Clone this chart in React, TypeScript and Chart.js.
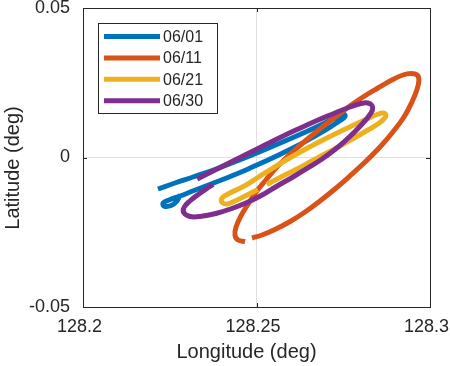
import React, { useEffect, useRef } from 'react';
import { Chart, registerables } from 'chart.js';

Chart.register(...registerables);

const seriesLabels = ['06/01', '06/11', '06/21', '06/30'];
const seriesColors = ['#0072BD', '#D95319', '#EDB120', '#7E2F8E'];

const xTickValues = [128.2, 128.25, 128.3];
const xTickLabels = ['128.2', '128.25', '128.3'];
const yTickValues = [-0.05, 0, 0.05];
const yTickLabels = ['-0.05', '0', '0.05'];

const xTitle = 'Longitude (deg)';
const yTitle = 'Latitude (deg)';

const lon0601 = [128.2216, 128.2265, 128.2317, 128.2372, 128.2429, 128.2487, 128.2545, 128.2602, 128.2654, 128.27, 128.2735, 128.2752, 128.2755, 128.2741, 128.2712, 128.2671, 128.2625, 128.2576, 128.2524, 128.2473, 128.2421, 128.2369, 128.232, 128.228, 128.2248, 128.2231, 128.2233, 128.2254, 128.2271, 128.228];
const lat0601 = [-0.01054, -0.00853, -0.00652, -0.00435, -0.00184, 0.00084, 0.00368, 0.00652, 0.0092, 0.01171, 0.01371, 0.01455, 0.01371, 0.01237, 0.0102, 0.00736, 0.00435, 0.00151, -0.00134, -0.00401, -0.00652, -0.00886, -0.01104, -0.01288, -0.01421, -0.01522, -0.01622, -0.01605, -0.01455, -0.01237];

const lon0611 = [128.2487, 128.2516, 128.2553, 128.2597, 128.264, 128.2683, 128.2726, 128.2769, 128.2813, 128.2856, 128.2893, 128.2925, 128.2948, 128.2963, 128.2968, 128.2963, 128.2945, 128.2922, 128.289, 128.285, 128.2807, 128.2769, 128.2735, 128.2697, 128.2654, 128.262, 128.2588, 128.2556, 128.2527, 128.2499, 128.2476, 128.2455, 128.2441, 128.2438, 128.2447, 128.2467];
const lat0611 = [-0.02692, -0.02592, -0.02408, -0.0214, -0.01823, -0.01455, -0.01054, -0.00619, -0.00151, 0.00351, 0.00853, 0.01355, 0.01856, 0.02291, 0.02592, 0.02759, 0.02809, 0.02759, 0.02592, 0.02324, 0.02023, 0.01722, 0.01421, 0.01087, 0.00686, 0.00351, 0.00017, -0.00351, -0.00753, -0.01154, -0.01555, -0.01957, -0.02324, -0.02592, -0.02759, -0.02809];

const lon0621 = [128.2504, 128.247, 128.2438, 128.2415, 128.2401, 128.2401, 128.2418, 128.2441, 128.247, 128.2504, 128.2545, 128.2588, 128.2634, 128.2683, 128.2735, 128.2784, 128.2821, 128.2847, 128.2865, 128.2873, 128.2867, 128.285, 128.2821, 128.2784, 128.2741, 128.2697, 128.2654, 128.2611, 128.2568, 128.253];
const lat0621 = [-0.0107, -0.01271, -0.01455, -0.01555, -0.01505, -0.01355, -0.01221, -0.01087, -0.0092, -0.00669, -0.00368, -0.00067, 0.00234, 0.00535, 0.00836, 0.01104, 0.01304, 0.01438, 0.01488, 0.01421, 0.01288, 0.0112, 0.0092, 0.00669, 0.00385, 0.00117, -0.00151, -0.00418, -0.00669, -0.00903];

const lon0630 = [128.2329, 128.2372, 128.2418, 128.2467, 128.2516, 128.2568, 128.262, 128.2671, 128.2723, 128.2769, 128.2801, 128.2821, 128.2833, 128.2834, 128.2824, 128.2807, 128.2784, 128.2758, 128.2726, 128.2689, 128.2648, 128.2605, 128.2562, 128.2519, 128.2476, 128.2429, 128.2383, 128.2337, 128.2308, 128.2291, 128.2291, 128.2308, 128.2334, 128.2357, 128.2375];
const lat0630 = [-0.00719, -0.00468, -0.00201, 0.00084, 0.00368, 0.00669, 0.00953, 0.01221, 0.01472, 0.01689, 0.01806, 0.01823, 0.01739, 0.01589, 0.01388, 0.01154, 0.0087, 0.00585, 0.00268, -0.0005, -0.00351, -0.00652, -0.00936, -0.01237, -0.01488, -0.01706, -0.01873, -0.01973, -0.01973, -0.01856, -0.01672, -0.01455, -0.01221, -0.01037, -0.00903];

const seriesLon = [lon0601, lon0611, lon0621, lon0630];
const seriesLat = [lat0601, lat0611, lat0621, lat0630];

const FONT = '"Liberation Sans", Arial, Helvetica, sans-serif';
const TEXT = '#262626';
const AXIS = '#262626';
const GRID = '#dfdfdf';
const LINE_W = 5;

const framePlugin = {
  id: 'matlabFrame',
  afterDraw(chart: any) {
    const { ctx, chartArea: a, scales } = chart;
    const xs = scales.x;
    const ys = scales.y;
    ctx.save();
    // inward ticks
    ctx.strokeStyle = AXIS;
    ctx.lineWidth = 1;
    ctx.beginPath();
    xTickValues.forEach((v) => {
      const px = Math.round(xs.getPixelForValue(v)) + 0.5;
      ctx.moveTo(px, a.bottom);
      ctx.lineTo(px, a.bottom - 4);
      ctx.moveTo(px, a.top);
      ctx.lineTo(px, a.top + 4);
    });
    yTickValues.forEach((v) => {
      const py = Math.round(ys.getPixelForValue(v)) + 0.5;
      ctx.moveTo(a.left, py);
      ctx.lineTo(a.left + 4, py);
      ctx.moveTo(a.right, py);
      ctx.lineTo(a.right - 4, py);
    });
    ctx.stroke();
    // box
    ctx.strokeRect(Math.round(a.left) + 0.5, Math.round(a.top) + 0.5, Math.round(a.right - a.left), Math.round(a.bottom - a.top));

    // legend
    const lx = a.left + 15;
    const ly = a.top + 15;
    const lw = 119;
    const rowH = 21.4;
    const lh = 90;
    ctx.fillStyle = '#ffffff';
    ctx.fillRect(lx, ly, lw, lh);
    ctx.strokeStyle = AXIS;
    ctx.lineWidth = 1;
    ctx.strokeRect(Math.round(lx) + 0.5, Math.round(ly) + 0.5, lw, lh);
    ctx.font = `16px ${FONT}`;
    ctx.textBaseline = 'middle';
    ctx.textAlign = 'left';
    chart.data.datasets.forEach((ds: any, i: number) => {
      const cy = ly + 13.5 + i * rowH;
      ctx.strokeStyle = ds.borderColor;
      ctx.lineWidth = LINE_W;
      ctx.beginPath();
      ctx.moveTo(lx + 6, cy);
      ctx.lineTo(lx + 62, cy);
      ctx.stroke();
      ctx.fillStyle = TEXT;
      ctx.fillText(ds.label, lx + 65, cy + 1);
    });

    // axis titles
    ctx.fillStyle = TEXT;
    ctx.font = `20px ${FONT}`;
    ctx.textAlign = 'center';
    ctx.textBaseline = 'alphabetic';
    ctx.fillText(xTitle, (a.left + a.right) / 2 - 10, 358);
    ctx.translate(18.5, (a.top + a.bottom) / 2 + 10.5);
    ctx.rotate(-Math.PI / 2);
    ctx.fillText(yTitle, 0, 0);
    ctx.restore();
  },
};

export default function App() {
  const canvasRef = useRef<HTMLCanvasElement | null>(null);

  useEffect(() => {
    if (!canvasRef.current) return;
    const datasets = seriesLabels.map((label, i) => ({
      label,
      data: seriesLon[i].map((x, j) => ({ x, y: seriesLat[i][j] })),
      borderColor: seriesColors[i],
      backgroundColor: seriesColors[i],
      borderWidth: LINE_W,
      showLine: true,
      pointRadius: 0,
      pointHoverRadius: 0,
      tension: 0.4,
      fill: false,
      order: seriesLabels.length - i,
    }));

    const chart = new Chart(canvasRef.current, {
      type: 'scatter',
      data: { datasets },
      options: {
        responsive: false,
        animation: false,
        devicePixelRatio: 1,
        layout: { padding: { left: 0, right: 20, top: 8, bottom: 0 } },
        plugins: {
          legend: { display: false },
          tooltip: { enabled: false },
        },
        scales: {
          x: {
            type: 'linear',
            min: 128.2,
            max: 128.3,
            afterBuildTicks: (scale: any) => {
              scale.ticks = xTickValues.map((value) => ({ value }));
            },
            afterFit: (scale: any) => {
              scale.height = 59;
              scale.paddingLeft = 0;
              scale.paddingRight = 0;
            },
            ticks: {
              callback: (_v: any, idx: number) => xTickLabels[idx],
              font: { family: FONT, size: 18 },
              color: TEXT,
              padding: 9,
              labelOffset: -3.5,
              maxRotation: 0,
              autoSkip: false,
            },
            grid: { color: GRID, lineWidth: 1, drawTicks: false },
            border: { display: false },
          },
          y: {
            type: 'linear',
            min: -0.05,
            max: 0.05,
            afterBuildTicks: (scale: any) => {
              scale.ticks = yTickValues.map((value) => ({ value }));
            },
            afterFit: (scale: any) => {
              scale.width = 83;
              scale.paddingTop = 0;
              scale.paddingBottom = 0;
            },
            ticks: {
              callback: (_v: any, idx: number) => yTickLabels[idx],
              font: { family: FONT, size: 18 },
              color: TEXT,
              padding: 13,
              autoSkip: false,
            },
            grid: { color: GRID, lineWidth: 1, drawTicks: false },
            border: { display: false },
          },
        },
      },
      plugins: [framePlugin],
    });
    return () => chart.destroy();
  }, []);

  return (
    <div style={{ position: 'fixed', left: 0, top: 0, width: 450, height: 366, background: '#ffffff' }}>
      <canvas ref={canvasRef} width={450} height={366} style={{ display: 'block', width: 450, height: 366 }} />
    </div>
  );
}
